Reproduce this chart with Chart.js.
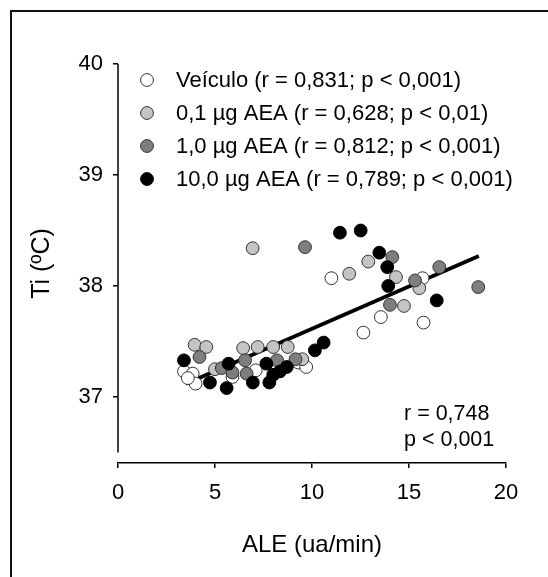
<!DOCTYPE html>
<html>
<head>
<meta charset="utf-8">
<script src="https://cdn.jsdelivr.net/npm/chart.js@4.4.1/dist/chart.umd.min.js"></script>
<style>
  html, body { margin: 0; padding: 0; background: #fff; }
  #wrap { position: relative; width: 548px; height: 577px; overflow: hidden; }
  #frame { position: absolute; left: 10px; top: 10px; width: 620px; height: 620px; border-left: 2px solid #111; border-top: 2px solid #111; }
  #chart { position: absolute; left: 0; top: 0; }
</style>
</head>
<body>
<div id="wrap">
  <div id="frame"></div>
  <canvas id="chart" width="548" height="577"></canvas>
</div>
<script>
const FONT = '"Liberation Sans", Arial, sans-serif'

// ALE (ua/min) vs Ti (ºC), one array of [x, y] pairs per group
const veiculo = [[3.4, 37.23], [3.85, 37.21], [4.0, 37.12], [3.6, 37.17], [5.9, 37.18], [7.1, 37.24], [9.3, 37.31], [9.7, 37.27],
  [11.0, 38.07], [12.65, 37.58], [13.55, 37.72], [15.75, 37.67], [15.7, 38.07]]
const aea01 = [[3.95, 37.47], [4.55, 37.45], [5.0, 37.25], [6.45, 37.44], [7.2, 37.45], [8.0, 37.45], [8.75, 37.45], [9.5, 37.34],
  [6.94, 38.34], [11.92, 38.11], [12.9, 38.22], [14.33, 38.08], [15.53, 37.98], [14.74, 37.82]]
const aea1 = [[4.2, 37.36], [5.35, 37.26], [5.9, 37.22], [6.55, 37.33], [6.63, 37.21], [8.2, 37.33], [9.15, 37.34], [9.64, 38.35],
  [14.14, 38.26], [15.31, 38.05], [16.56, 38.17], [18.57, 37.99], [14.02, 37.83]]
const aea10 = [[3.4, 37.33], [4.74, 37.13], [5.6, 37.08], [5.7, 37.30], [6.95, 37.13], [7.65, 37.30], [7.8, 37.13], [8.0, 37.2],
  [8.35, 37.23], [8.7, 37.27], [10.15, 37.42], [10.6, 37.49], [11.44, 38.48], [12.51, 38.50], [13.47, 38.30], [13.88, 38.17],
  [13.93, 38.0], [16.43, 37.87]]
// pooled regression line ends
const regLine = [[3.5, 37.12], [18.6, 38.27]]

const groupLabels = ['Veículo (r = 0,831; p < 0,001)', '0,1 µg AEA (r = 0,628; p < 0,01)',
  '1,0 µg AEA (r = 0,812; p < 0,001)', '10,0 µg AEA (r = 0,789; p < 0,001)']
const groupFills = ['#ffffff', '#c4c4c4', '#7e7e7e', '#000000']
const statsText = ['r = 0,748', 'p < 0,001']

const xTicks = [0, 5, 10, 15, 20]
const yTicks = [37, 38, 39, 40]
const yAxisEnd = 36.5

const toPts = arr => arr.map(p => ({ x: p[0], y: p[1] }))

const groups = [veiculo, aea01, aea1, aea10].map((g, i) => ({
  type: 'scatter',
  label: groupLabels[i],
  data: toPts(g),
  backgroundColor: groupFills[i],
  borderColor: i == 3 ? '#000' : '#333',
  borderWidth: 1,
  pointRadius: 6.4,
  pointHoverRadius: 6.4,
  order: 4 - i
}))

// axis line for y stops short of the x axis, legend and stats text
const extras = {
  id: 'extras',
  beforeDatasetsDraw(chart) {
    const { ctx, chartArea, scales: { y } } = chart
    ctx.save()
    ctx.strokeStyle = '#000'
    ctx.lineWidth = 1.5
    ctx.beginPath()
    ctx.moveTo(chartArea.left, y.getPixelForValue(yTicks[yTicks.length - 1]))
    ctx.lineTo(chartArea.left, y.getPixelForValue(yAxisEnd))
    ctx.stroke()
    ctx.restore()
  },
  afterDraw(chart) {
    const { ctx } = chart
    ctx.save()
    ctx.font = '22px ' + FONT
    ctx.textBaseline = 'middle'
    ctx.textAlign = 'left'
    groupLabels.forEach((txt, i) => {
      const cy = 80 + i * 33
      ctx.beginPath()
      ctx.arc(147, cy, 6.4, 0, Math.PI * 2)
      ctx.fillStyle = groupFills[i]
      ctx.fill()
      ctx.lineWidth = 1
      ctx.strokeStyle = i == 3 ? '#000' : '#333'
      ctx.stroke()
      ctx.fillStyle = '#000'
      ctx.fillText(txt, 176, cy + 1)
    })
    ctx.font = '21.5px ' + FONT
    statsText.forEach((txt, i) => {
      ctx.fillText(txt, 404, 414 + i * 26)
    })
    ctx.restore()
  }
}

new Chart(document.getElementById('chart'), {
  data: {
    datasets: [...groups, {
      type: 'line',
      label: 'regressão',
      data: toPts(regLine),
      borderColor: '#000',
      borderWidth: 3.8,
      pointRadius: 0,
      order: 5
    }]
  },
  options: {
    responsive: false,
    animation: false,
    layout: { padding: { left: 0, top: 64, right: 42, bottom: 0 } },
    plugins: { legend: { display: false }, tooltip: { enabled: false } },
    scales: {
      x: {
        type: 'linear',
        min: 0,
        max: 20,
        afterFit(scale) { scale.height = 114 },
        afterBuildTicks(scale) { scale.ticks = xTicks.map(v => ({ value: v })) },
        border: { display: true, color: '#000', width: 1.5 },
        grid: { display: true, drawOnChartArea: false, color: '#000', lineWidth: 1.5, tickLength: 5 },
        ticks: { color: '#000', font: { family: FONT, size: 22 }, padding: 12, maxRotation: 0 },
        title: { display: true, text: 'ALE (ua/min)', color: '#000', font: { family: FONT, size: 24 }, padding: { top: 0, bottom: 17 } }
      },
      y: {
        type: 'linear',
        min: 36.405,
        max: 40,
        afterFit(scale) { scale.width = 118 },
        afterBuildTicks(scale) { scale.ticks = yTicks.map(v => ({ value: v })) },
        border: { display: false },
        grid: { display: true, drawOnChartArea: false, color: '#000', lineWidth: 1.5, tickLength: 5 },
        ticks: { color: '#000', font: { family: FONT, size: 22 }, padding: 10 },
        title: { display: true, text: 'Ti (ºC)', color: '#000', font: { family: FONT, size: 25 }, padding: { top: 27, bottom: 0 } }
      }
    }
  },
  plugins: [extras]
})
</script>
</body>
</html>
